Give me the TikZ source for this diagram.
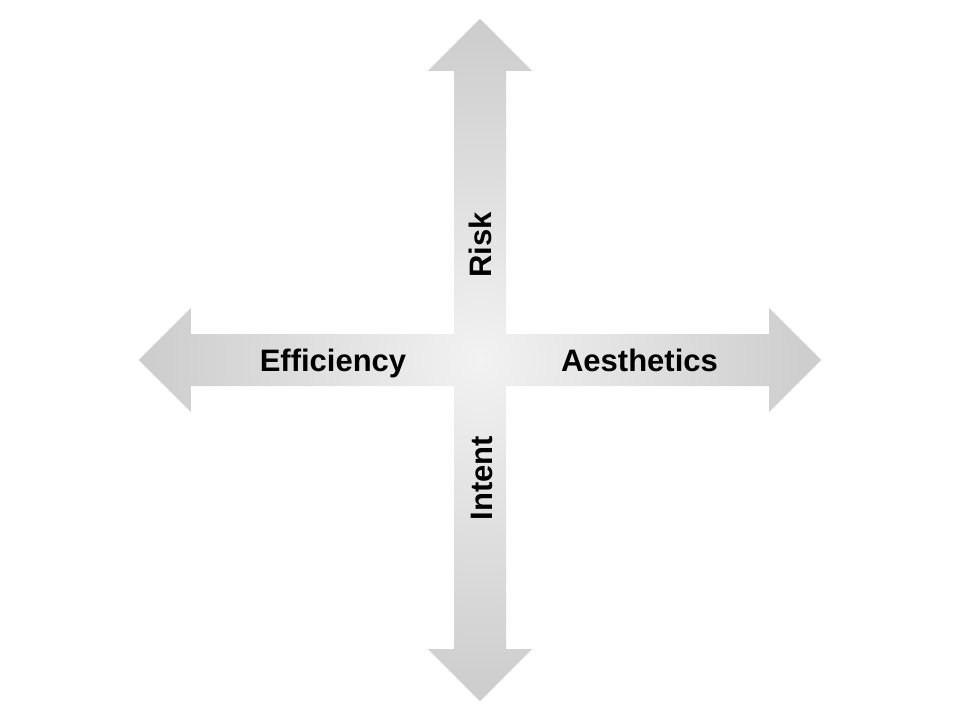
\documentclass[tikz,border=0pt]{standalone}
\usepackage{fontspec}
\setmainfont{Liberation Sans}
\definecolor{crosscentre}{HTML}{F2F2F2}
\definecolor{crosstip}{HTML}{A6A6A6}
\pgfdeclareradialshading{crossfade}{\pgfpoint{0bp}{0bp}}{color(0bp)=(crosscentre); color(50bp)=(crosstip); color(75bp)=(crosstip)}
\tikzset{
  axislabel/.style={font=\fontsize{31}{31}\selectfont\bfseries, inner sep=0pt, anchor=base},
}
\begin{document}
\begin{tikzpicture}[x=1pt, y=1pt, line join=miter]
	\def\sh{26}\def\hb{289}\def\hw{52}\def\tip{341}
	\useasboundingbox (-480,-360) rectangle (480,360);
	% four-way arrow
	\shade[shading=crossfade] (\sh,\sh)--(\sh,\hb)--(\hw,\hb)--(0,\tip)--(-\hw,\hb)--(-\sh,\hb)--(-\sh,\sh)
		--(-\hb,\sh)--(-\hb,\hw)--(-\tip,0)--(-\hb,-\hw)--(-\hb,-\sh)--(-\sh,-\sh)
		--(-\sh,-\hb)--(-\hw,-\hb)--(0,-\tip)--(\hw,-\hb)--(\sh,-\hb)--(\sh,-\sh)
		--(\hb,-\sh)--(\hb,-\hw)--(\tip,0)--(\hb,\hw)--(\hb,\sh)--cycle;
	% labels
	\node[axislabel] (efficiency) at (-147,-11) {Efficiency};
	\node[axislabel] (aesthetics) at (159.5,-11) {Aesthetics};
	\node[axislabel, rotate=90] (risk) at (11,115) {Risk};
	\node[axislabel, rotate=90] (intent) at (12,-118) {Intent};
\end{tikzpicture}
\end{document}
